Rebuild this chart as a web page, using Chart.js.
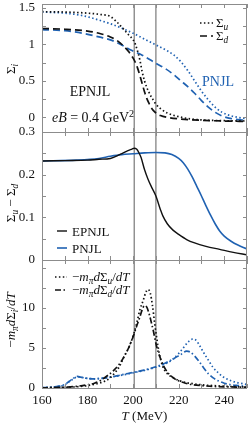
<!DOCTYPE html>
<html>
<head>
<meta charset="utf-8">
<script src="https://cdn.jsdelivr.net/npm/chart.js@4/dist/chart.umd.min.js"></script>
<style>
  html, body { margin: 0; padding: 0; background: #fff; }
</style>
</head>
<body>
<canvas id="myChart" width="249" height="425"></canvas>
<script>
// panel 1: Sigma_i
const tUEp = [160, 170, 180, 186, 190, 193, 196, 198, 200, 201, 202, 203, 204, 205, 206, 207, 208, 209, 210, 212, 215, 220, 225, 230, 240, 250];
const sigUEp = [1.445, 1.44, 1.425, 1.405, 1.38, 1.3, 1.2, 1.13, 1.06, 1.0, 0.9, 0.78, 0.62, 0.5, 0.41, 0.34, 0.28, 0.23, 0.18, 0.12, 0.06, 0.01, -0.02, -0.035, -0.045, -0.05];
const tDEp = [160, 170, 180, 185, 190, 193, 196, 198, 200, 201, 202, 203, 204, 205, 206, 207, 208, 210, 212, 215, 220, 230, 240, 250];
const sigDEp = [1.215, 1.205, 1.18, 1.15, 1.1, 1.05, 0.97, 0.9, 0.81, 0.75, 0.67, 0.57, 0.46, 0.35, 0.26, 0.19, 0.13, 0.06, 0.025, 0.0, -0.02, -0.04, -0.05, -0.055];
const tUP = [160, 170, 178, 185, 190, 195, 200, 205, 210, 215, 218, 221, 224, 227, 230, 233, 236, 239, 242, 246, 250];
const sigUP = [1.44, 1.425, 1.39, 1.33, 1.28, 1.22, 1.15, 1.07, 0.99, 0.91, 0.85, 0.76, 0.64, 0.5, 0.36, 0.24, 0.14, 0.07, 0.03, 0.0, -0.02];
const tDP = [160, 170, 178, 185, 190, 195, 199, 204, 210, 214, 218, 221, 224, 227, 230, 233, 236, 239, 242, 246, 250];
const sigDP = [1.2, 1.185, 1.15, 1.1, 1.06, 0.99, 0.92, 0.85, 0.74, 0.67, 0.58, 0.5, 0.42, 0.33, 0.23, 0.14, 0.07, 0.02, -0.01, -0.03, -0.04];

// panel 2: Sigma_u - Sigma_d
const tDiffEp = [160, 170, 180, 185, 190, 194.5, 197.5, 199.5, 200.5, 201.5, 202.5, 203.5, 205, 206.5, 208, 210, 212, 213, 215, 217.5, 220, 223.5, 227, 232, 238, 244, 250];
const diffEp = [0.232, 0.233, 0.234, 0.236, 0.238, 0.248, 0.256, 0.26, 0.262, 0.26, 0.252, 0.24, 0.212, 0.19, 0.172, 0.15, 0.118, 0.104, 0.085, 0.07, 0.06, 0.048, 0.04, 0.032, 0.025, 0.018, 0.012];
const tDiffP = [160, 175, 185, 190, 195, 200, 205, 210, 214, 217, 220, 222, 224, 226, 228, 230, 232, 234, 236, 238, 240, 243, 246, 250];
const diffP = [0.232, 0.234, 0.238, 0.243, 0.247, 0.249, 0.251, 0.252, 0.251, 0.247, 0.238, 0.228, 0.213, 0.194, 0.172, 0.15, 0.127, 0.105, 0.085, 0.068, 0.056, 0.044, 0.035, 0.026];

// panel 3: -m_pi dSigma/dT
const tDerUEp = [160, 170, 175, 180, 185, 188, 190, 192, 194, 196, 198, 200, 201.5, 203, 204.5, 205.5, 206.5, 207.5, 208.5, 209.5, 210.5, 211.5, 213, 215, 217.5, 220, 223, 226, 230, 235, 240, 245, 250];
const derUEp = [0.02, 0.08, 0.15, 0.3, 0.6, 0.9, 1.3, 1.9, 2.7, 3.9, 5.0, 6.5, 8.0, 9.8, 11.0, 11.9, 12.3, 11.9, 10.3, 8.0, 6.0, 4.3, 2.7, 1.8, 1.3, 0.95, 0.7, 0.55, 0.4, 0.3, 0.22, 0.16, 0.12];
const tDerDEp = [160, 165, 170, 175, 180, 183, 186, 189, 191.5, 194, 196, 198, 200, 201.5, 203, 204, 205, 206, 207, 208, 209, 210, 211, 212, 213.5, 215, 217.5, 220, 223, 226, 230, 235, 240, 250];
const derDEp = [0.02, 0.05, 0.1, 0.2, 0.4, 0.6, 1.0, 1.6, 2.2, 3.0, 3.9, 5.0, 6.4, 7.7, 8.9, 9.8, 10.3, 10.1, 9.3, 8.2, 7.0, 5.6, 4.5, 3.7, 2.7, 2.0, 1.3, 0.9, 0.6, 0.42, 0.3, 0.2, 0.15, 0.1];
const tDerUP = [160, 165, 170, 172, 174, 175.5, 177, 180, 183, 186, 190, 195, 200, 205, 210, 214, 217, 220, 222, 224, 226, 227.5, 229, 231, 233, 235, 237, 239, 241, 243, 246, 250];
const derUP = [0.05, 0.12, 0.4, 0.8, 1.2, 1.4, 1.35, 1.2, 1.15, 1.2, 1.35, 1.6, 1.9, 2.2, 2.6, 3.0, 3.5, 4.3, 5.0, 5.7, 6.1, 6.0, 5.4, 4.4, 3.5, 2.6, 2.0, 1.5, 1.15, 0.9, 0.65, 0.45];
const tDerDP = [160, 165, 170, 172, 174, 175.5, 177, 180, 183, 186, 190, 195, 200, 205, 210, 214, 218, 221, 223.5, 225, 227, 229, 231, 233, 235, 237, 240, 243, 246, 250];
const derDP = [0.05, 0.12, 0.45, 0.85, 1.25, 1.45, 1.35, 1.2, 1.15, 1.2, 1.35, 1.65, 1.95, 2.25, 2.65, 3.1, 3.7, 4.2, 4.6, 4.5, 4.0, 3.3, 2.5, 1.8, 1.3, 0.95, 0.6, 0.4, 0.3, 0.2];

const xTicks = [160, 180, 200, 220, 240];
const y1Ticks = [0, 0.5, 1, 1.5];
const y2Ticks = [0, 0.1, 0.2, 0.3];
const y3Ticks = [0, 5, 10];
const markT = [200.5, 210];

const BLUE = "rgb(32, 98, 178)";
const BLACK = "#111";
const GRAY = "#8c8c8c";
const FONT = '"Liberation Serif", "Times New Roman", serif';
const DOT = [1.5, 2.4];
const DASH = [7, 4];
const DASHDOT = [6, 2.5, 1.5, 2.5];

function line(xs, ys, color, dash, axis, width) {
  return {
    data: xs.map((x, i) => ({ x: x, y: ys[i] })),
    borderColor: color,
    borderDash: dash,
    borderWidth: width || 1.7,
    pointRadius: 0,
    fill: false,
    cubicInterpolationMode: "monotone",
    yAxisID: axis,
  };
}

const data = {
  datasets: [
    line(tUEp, sigUEp, BLACK, DOT, "y1"),
    line(tDEp, sigDEp, BLACK, DASH, "y1"),
    line(tUP, sigUP, BLUE, DOT, "y1"),
    line(tDP, sigDP, BLUE, DASH, "y1"),
    line(tDiffEp, diffEp, BLACK, [], "y2", 1.4),
    line(tDiffP, diffP, BLUE, [], "y2", 1.6),
    line(tDerUEp, derUEp, BLACK, DOT, "y3"),
    line(tDerDEp, derDEp, BLACK, DASHDOT, "y3"),
    line(tDerUP, derUP, BLUE, DOT, "y3"),
    line(tDerDP, derDP, BLUE, DASHDOT, "y3"),
  ],
};

// rich text: parts = [text, flags] ; flags: i italic, b subscript, p superscript
function rich(ctx, parts, x, y, align, size, color) {
  const fontOf = (f, s) => (f.includes("i") ? "italic " : "") + s + "px " + FONT;
  let w = 0;
  const items = parts.map(([t, f]) => {
    f = f || "";
    const s = f.includes("b") || f.includes("p") ? size * 0.72 : size;
    ctx.font = fontOf(f, s);
    const m = ctx.measureText(t).width;
    w += m;
    return { t, f, s, m };
  });
  let cx = align === "center" ? x - w / 2 : align === "right" ? x - w : x;
  ctx.fillStyle = color || BLACK;
  ctx.textAlign = "left";
  ctx.textBaseline = "alphabetic";
  items.forEach((it) => {
    ctx.font = fontOf(it.f, it.s);
    let dy = 0;
    if (it.f.includes("b")) dy = size * 0.22;
    if (it.f.includes("p")) dy = -size * 0.38;
    ctx.fillText(it.t, cx, y + dy);
    cx += it.m;
  });
}

function sample(ctx, x0, x1, y, color, dash, width) {
  ctx.save();
  ctx.strokeStyle = color;
  ctx.lineWidth = width || 1.7;
  ctx.setLineDash(dash);
  ctx.beginPath();
  ctx.moveTo(x0, y);
  ctx.lineTo(x1, y);
  ctx.stroke();
  ctx.restore();
}

const decor = {
  id: "decor",
  beforeDatasetsDraw(chart) {
    const ctx = chart.ctx;
    const a = chart.chartArea;
    const xs = chart.scales.x;
    ctx.save();
    ctx.strokeStyle = GRAY;
    ctx.lineWidth = 1.4;
    markT.forEach((t) => {
      const px = xs.getPixelForValue(t);
      ctx.beginPath();
      ctx.moveTo(px, a.top);
      ctx.lineTo(px, a.bottom);
      ctx.stroke();
    });
    ctx.restore();
  },
  afterDraw(chart) {
    const ctx = chart.ctx;
    const a = chart.chartArea;
    const xs = chart.scales.x;
    const panels = [
      [chart.scales.y1, 0.25, -0.2, 1.6],
      [chart.scales.y2, 0.05, 0, 0.3],
      [chart.scales.y3, 2.5, 0, 16],
    ];
    ctx.save();
    ctx.strokeStyle = GRAY;
    ctx.lineWidth = 1;
    panels.forEach(([s, step, lo, hi]) => {
      ctx.strokeRect(a.left + 0.5, s.top + 0.5, a.right - a.left - 1, s.bottom - s.top);
      ctx.beginPath();
      for (let t = 160; t <= 250; t += 10) {
        const px = Math.round(xs.getPixelForValue(t)) + 0.5;
        ctx.moveTo(px, s.top);
        ctx.lineTo(px, s.top + 4);
        ctx.moveTo(px, s.bottom);
        ctx.lineTo(px, s.bottom - 4);
      }
      for (let k = Math.ceil(lo / step); k * step <= hi + 1e-9; k++) {
        const py = Math.round(s.getPixelForValue(k * step)) + 0.5;
        if (py < s.top || py > s.bottom) continue;
        ctx.moveTo(a.left, py);
        ctx.lineTo(a.left + 4, py);
        ctx.moveTo(a.right, py);
        ctx.lineTo(a.right - 4, py);
      }
      ctx.stroke();
    });
    ctx.restore();

    // panel 1 texts
    sample(ctx, 200, 213, 23, BLACK, DOT);
    rich(ctx, [["Σ"], ["u", "ib"]], 216, 27, "left", 13);
    sample(ctx, 200, 213, 36, BLACK, DASH);
    rich(ctx, [["Σ"], ["d", "ib"]], 216, 40, "left", 13);
    rich(ctx, [["EPNJL"]], 90, 96, "center", 14);
    rich(ctx, [["e", "i"], ["B", "i"], [" = 0.4 GeV"], ["2", "p"]], 93, 122, "center", 14);
    rich(ctx, [["PNJL"]], 218, 86, "center", 14, BLUE);

    // panel 2 legend
    sample(ctx, 57, 67, 231, BLACK, [], 1.4);
    rich(ctx, [["EPNJL"]], 72, 235.5, "left", 13);
    sample(ctx, 57, 67, 248, BLUE, [], 1.6);
    rich(ctx, [["PNJL"]], 72, 252.5, "left", 13);

    // panel 3 legend
    sample(ctx, 55, 67, 277, BLACK, DOT);
    rich(ctx, [["−"], ["m", "i"], ["π", "ib"], ["d", "i"], ["Σ"], ["u", "ib"], ["/"], ["d", "i"], ["T", "i"]], 72, 281, "left", 13);
    sample(ctx, 55, 67, 290, BLACK, DASHDOT);
    rich(ctx, [["−"], ["m", "i"], ["π", "ib"], ["d", "i"], ["Σ"], ["d", "ib"], ["/"], ["d", "i"], ["T", "i"]], 72, 294, "left", 13);

    // axis titles
    const ytitle = (parts, yc) => {
      ctx.save();
      ctx.translate(15, yc);
      ctx.rotate(-Math.PI / 2);
      rich(ctx, parts, 0, 0, "center", 13);
      ctx.restore();
    };
    ytitle([["Σ"], ["i", "ib"]], 69);
    ytitle([["Σ"], ["u", "ib"], [" − Σ"], ["d", "ib"]], 203);
    ytitle([["−"], ["m", "i"], ["π", "ib"], ["d", "i"], ["Σ"], ["i", "ib"], ["/"], ["d", "i"], ["T", "i"]], 320);
    rich(ctx, [["T", "i"], [" (MeV)"]], (a.left + a.right) / 2, 420, "center", 13);
  },
};

const tickFont = { family: FONT, size: 13 };
function yAxis(ticks, min, max, weight) {
  return {
    type: "linear",
    position: "left",
    stack: "panels",
    stackWeight: 1,
    weight: weight,
    min: min,
    max: max,
    grid: { display: false, drawTicks: false },
    border: { display: false },
    ticks: { font: tickFont, color: BLACK, padding: 7, callback: (v) => String(v) },
    afterBuildTicks: (s) => { s.ticks = ticks.map((v) => ({ value: v })); },
    afterFit: (s) => { s.width = 42; s.paddingTop = 0; s.paddingBottom = 0; },
  };
}

const config = {
  type: "line",
  data: data,
  options: {
    responsive: false,
    animation: false,
    layout: { padding: { top: 4, right: 2, left: 0, bottom: 0 } },
    plugins: { legend: { display: false }, tooltip: { enabled: false } },
    scales: {
      x: {
        type: "linear",
        min: 160,
        max: 250,
        grid: { display: false, drawTicks: false },
        border: { display: false },
        ticks: { font: tickFont, color: BLACK, padding: 5, maxRotation: 0, autoSkip: false, callback: (v) => String(v) },
        afterBuildTicks: (s) => { s.ticks = xTicks.map((v) => ({ value: v })); },
        afterFit: (s) => { s.height = 37; s.paddingLeft = 0; s.paddingRight = 0; },
      },
      y1: yAxis(y1Ticks, -0.2, 1.55, 3),
      y2: yAxis(y2Ticks, 0, 0.3, 2),
      y3: yAxis(y3Ticks, 0, 16, 1),
    },
  },
  plugins: [decor],
};

const myChart = new Chart(document.getElementById("myChart"), config);
</script>
</body>
</html>
